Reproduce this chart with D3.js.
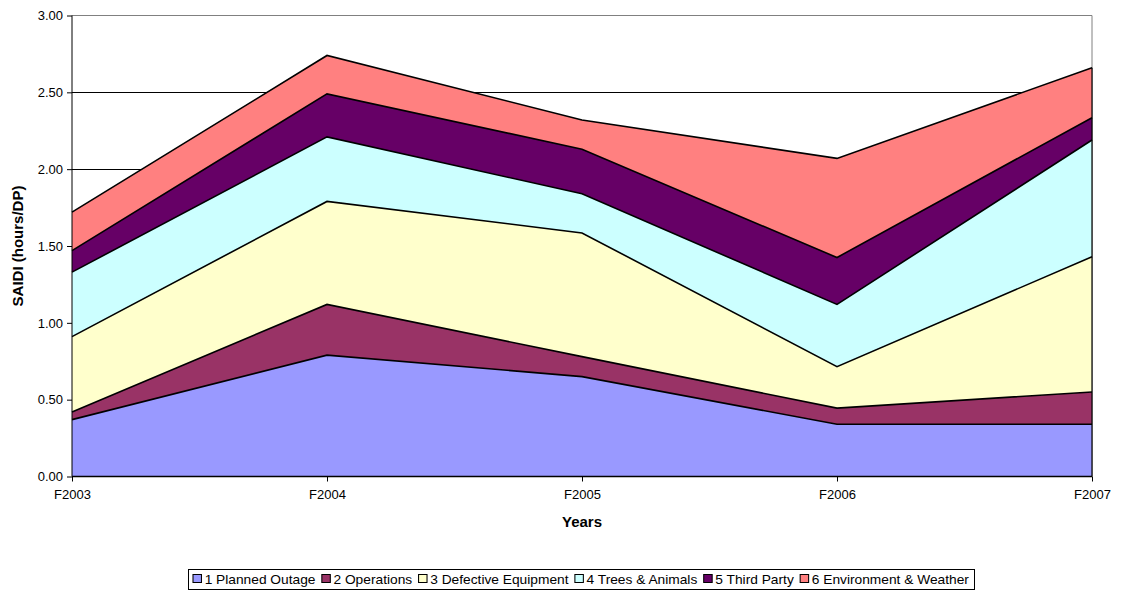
<!DOCTYPE html>
<html><head><meta charset="utf-8">
<script src="https://cdn.jsdelivr.net/npm/d3@7"></script>
<style>
body{margin:0;background:#fff;}
text{font-family:"Liberation Sans",Arial,sans-serif;}
</style></head>
<body><svg id="c" width="1122" height="592"></svg>
<script>
const years = ["F2003","F2004","F2005","F2006","F2007"];
const seriesNames = ["1 Planned Outage","2 Operations","3 Defective Equipment","4 Trees & Animals","5 Third Party","6 Environment & Weather"];
const plannedOutage   = [0.37, 0.79, 0.65, 0.34, 0.34];
const operations      = [0.05, 0.33, 0.13, 0.105, 0.21];
const defectiveEquip  = [0.49, 0.67, 0.805, 0.27, 0.88];
const treesAnimals    = [0.42, 0.42, 0.255, 0.405, 0.76];
const thirdParty      = [0.14, 0.28, 0.29, 0.305, 0.145];
const envWeather      = [0.25, 0.25, 0.19, 0.645, 0.325];
const yTicks = [0, 0.5, 1.0, 1.5, 2.0, 2.5, 3.0];
const colors = ["#9999FF","#993366","#FFFFCC","#CCFFFF","#660066","#FF8080"];

const seriesVals = [plannedOutage, operations, defectiveEquip, treesAnimals, thirdParty, envWeather];
const rows = years.map((y,i)=>{const r={year:y}; seriesNames.forEach((n,k)=>r[n]=seriesVals[k][i]); return r;});
const stacked = d3.stack().keys(seriesNames)(rows);

const svg = d3.select("#c");
const L=72, R=1092, T=15.5, B=476.5;
const x = d3.scalePoint().domain(years).range([L,R]);
const y = d3.scaleLinear().domain([0,3]).range([B,T]);

// gridlines
svg.append("g").selectAll("line").data(yTicks.filter(t=>t>0 && t<3)).join("line")
  .attr("x1",L).attr("x2",R).attr("y1",d=>Math.round(y(d))+0.5).attr("y2",d=>Math.round(y(d))+0.5)
  .attr("stroke","#000").attr("stroke-width",1);

// plot border (top/right gray)
svg.append("path").attr("d",`M${L},${T}H${R}V${B}`).attr("fill","none").attr("stroke","#808080").attr("stroke-width",1);

const area = d3.area().x(d=>x(d.data.year)).y0(d=>y(d[0])).y1(d=>y(d[1]));
const line = d3.line().x(d=>x(d.data.year)).y(d=>y(d[1]));
svg.append("g").selectAll("path").data(stacked).join("path")
  .attr("d",area).attr("fill",(d,i)=>colors[i]).attr("stroke","none");
svg.append("g").selectAll("path").data(stacked).join("path")
  .attr("d",line).attr("fill","none").attr("stroke","#000").attr("stroke-width",1.6);
svg.append("line").attr("x1",R).attr("x2",R).attr("y1",y(stacked[5][4][1])).attr("y2",B).attr("stroke","#000").attr("stroke-width",1.2);

// axes
const yAxis = d3.axisLeft(y).tickValues(yTicks).tickFormat(d3.format(".2f")).tickSize(5).tickPadding(4);
const gy = svg.append("g").attr("transform",`translate(${L},0)`).call(yAxis);
gy.selectAll("text").attr("font-size","13px").attr("fill","#000");
gy.selectAll("line").attr("stroke","#000");
gy.select(".domain").attr("stroke","#000").attr("d",`M-0,${T}V${B}`);

const xAxis = d3.axisBottom(x).tickSize(5).tickPadding(8);
const gx = svg.append("g").attr("transform",`translate(0,${B})`).call(xAxis);
gx.selectAll("text").attr("font-size","13px").attr("fill","#000");
gx.selectAll("line").attr("stroke","#000");
gx.select(".domain").attr("stroke","#000").attr("stroke-width",1.5).attr("d",`M${L},0H${R}`);

svg.append("text").attr("x",(L+R)/2).attr("y",527).attr("text-anchor","middle")
  .attr("font-size","15px").attr("font-weight","bold").text("Years");
svg.append("text").attr("transform",`translate(23,${(T+B)/2}) rotate(-90)`).attr("text-anchor","middle")
  .attr("font-size","15px").attr("font-weight","bold").text("SAIDI (hours/DP)");

// legend
const boxL = 188, boxR = 974;
svg.append("rect").attr("x",boxL+0.5).attr("y",569.5).attr("width",boxR-boxL).attr("height",20)
  .attr("fill","#fff").attr("stroke","#000").attr("stroke-width",1);
const lg = svg.append("g");
const fs = 13;
let cx = 0;
seriesNames.forEach((n,i)=>{
  const g = lg.append("g");
  g.append("rect").attr("x",cx).attr("y",-4.5).attr("width",8).attr("height",8).attr("fill",colors[i]).attr("stroke","#000").attr("stroke-width",1);
  const t = g.append("text").attr("x",cx+11).attr("y",4.5).attr("font-size",fs+"px").text(n);
  const w = t.node().getComputedTextLength();
  cx += 11 + w + 6;
});
const totalW = cx - 6;
const scaleX = (boxR-boxL-10)/totalW;
lg.attr("transform",`translate(${boxL+5},579) scale(${scaleX},1)`);
</script></body></html>
